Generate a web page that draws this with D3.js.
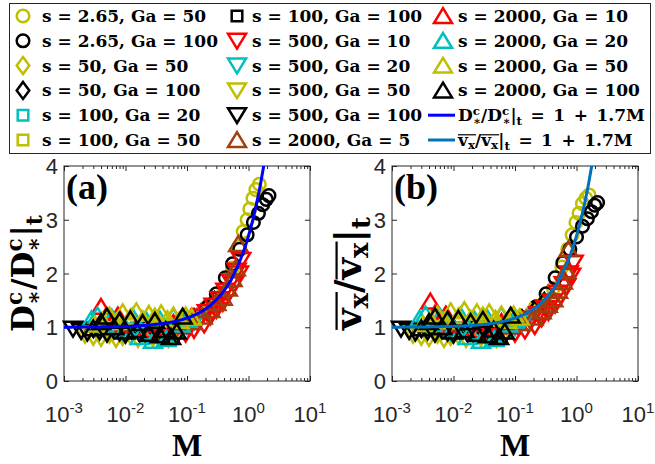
<!DOCTYPE html>
<html lang="en">
<head>
<meta charset="UTF-8">
<title>Scaled diffusivity and velocity vs M</title>
<script src="https://d3js.org/d3.v7.min.js"></script>
<style>
  body { margin: 0; background: #fff; }
</style>
</head>
<body>
<svg id="chart" width="655" height="464"></svg>
<script>
// ---- data (legend order = plot order) ----
const seriesS  = [2.65, 2.65, 50, 50, 100, 100, 100, 500, 500, 500, 500, 2000, 2000, 2000, 2000, 2000];
const seriesGa = [50, 100, 50, 100, 20, 50, 100, 10, 20, 50, 100, 5, 10, 20, 50, 100];

// fit: ratio = fitA + fitB * M
const fitA = 1, fitB = 1.7;

const xTicks = [1e-3, 1e-2, 1e-1, 1, 10];
const xTickExp = ["-3", "-2", "-1", "0", "1"];
const yTicks = [0, 1, 2, 3, 4];

// panel (a): [M, Dc*/Dc*|t]
const dA_s265_ga50  = [[0.4,1.7],[0.55,2.1],[0.7,2.5],[0.82,2.78],[0.95,3.0],[1.05,3.2],[1.18,3.4],[1.32,3.56],[1.5,3.66]];
const dA_s265_ga100 = [[0.2,1.35],[0.3,1.62],[0.42,1.92],[0.55,2.18],[0.72,2.45],[0.95,2.72],[1.2,2.95],[1.45,3.12],[1.7,3.28],[1.95,3.38],[2.15,3.45]];
const dA_s50_ga50   = [[0.05,1.05],[0.08,1.1],[0.12,1.2],[0.18,1.3],[0.26,1.45]];
const dA_s50_ga100  = [[0.03,1.0],[0.05,1.02],[0.08,1.08],[0.13,1.18],[0.2,1.35],[0.28,1.5]];
const dA_s100_ga20  = [[0.02,0.95],[0.035,1.0],[0.05,0.92],[0.08,1.05],[0.12,1.12],[0.18,1.25]];
const dA_s100_ga50  = [[0.008,1.05],[0.015,1.0],[0.025,1.08],[0.04,1.02],[0.06,1.1],[0.1,1.15]];
const dA_s100_ga100 = [[0.004,0.98],[0.007,1.02],[0.012,0.95],[0.02,1.0],[0.035,0.96],[0.055,1.05]];
const dA_s500_ga10  = [[0.075,0.95],[0.085,1.05],[0.095,0.88],[0.11,1.0],[0.12,1.12],[0.13,0.95],[0.15,1.08],[0.17,1.2],[0.19,1.05],[0.21,1.28],[0.24,1.2],[0.27,1.4],[0.3,1.32],[0.34,1.52],[0.38,1.45],[0.42,1.68],[0.47,1.62],[0.52,1.85],[0.58,1.8],[0.64,2.05],[0.7,2.0],[0.76,2.25]];
const dA_s500_ga20  = [[0.006,0.92],[0.009,0.88],[0.013,0.9],[0.018,0.84],[0.025,0.9],[0.034,0.82],[0.045,0.88],[0.06,0.92],[0.08,0.96],[0.1,1.02],[0.13,1.1]];
const dA_s500_ga50  = [[0.0022,0.86],[0.003,0.82],[0.004,0.8],[0.0055,0.86],[0.007,0.78],[0.009,0.82],[0.012,0.84],[0.016,0.78],[0.021,0.86],[0.028,0.8],[0.037,0.84],[0.05,0.78],[0.065,0.86]];
const dA_s500_ga100 = [[0.0014,0.97],[0.0019,0.93],[0.0024,0.9],[0.003,0.96],[0.0038,0.92],[0.005,0.88],[0.0065,0.94],[0.008,0.9],[0.01,0.86],[0.013,0.92],[0.017,0.88],[0.022,0.84],[0.03,0.9],[0.04,0.86],[0.052,0.9],[0.068,0.84]];
const dA_s2000_ga5  = [[0.12,1.1],[0.18,1.2],[0.24,1.32],[0.3,1.45],[0.38,1.55],[0.46,1.72],[0.55,1.9],[0.62,2.1],[0.68,2.55]];
const dA_s2000_ga10 = [[0.004,1.38],[0.0048,1.2],[0.006,1.1],[0.0075,1.22],[0.009,1.05],[0.012,1.15],[0.015,1.0],[0.02,1.1],[0.026,0.95],[0.034,1.05],[0.045,0.98],[0.06,1.08],[0.08,1.02]];
const dA_s2000_ga20 = [[0.0028,1.15],[0.0035,1.22],[0.0045,1.05],[0.006,1.18],[0.008,1.1],[0.01,0.98],[0.013,1.2],[0.017,0.82],[0.022,1.12],[0.028,0.75],[0.036,1.15],[0.046,0.78],[0.06,1.2],[0.078,1.05],[0.1,1.15]];
const dA_s2000_ga50 = [[0.0032,1.05],[0.0042,1.12],[0.0055,1.22],[0.007,1.1],[0.009,1.28],[0.012,1.18],[0.015,1.3],[0.019,1.15],[0.024,1.25],[0.03,1.2],[0.038,1.26],[0.048,1.15],[0.06,1.22],[0.075,1.12],[0.095,1.22],[0.12,1.18]];
const dA_s2000_ga100= [[0.003,0.98],[0.004,1.1],[0.005,1.2],[0.0065,1.0],[0.008,1.12],[0.01,0.92],[0.012,1.15],[0.015,0.95],[0.019,1.08],[0.024,0.88],[0.03,1.12],[0.036,0.85],[0.045,0.95],[0.055,0.82],[0.068,0.92],[0.085,1.2]];

// panel (b): [M, vx/vx|t]
const dB_s265_ga50  = [[0.42,1.72],[0.58,2.12],[0.72,2.45],[0.85,2.72],[0.98,2.95],[1.1,3.12],[1.25,3.3],[1.42,3.4],[1.6,3.46]];
const dB_s265_ga100 = [[0.22,1.38],[0.32,1.62],[0.45,1.92],[0.6,2.2],[0.78,2.45],[1.0,2.68],[1.25,2.88],[1.5,3.02],[1.75,3.15],[1.98,3.27],[2.2,3.32]];
const dB_s50_ga50   = [[0.05,1.04],[0.08,1.1],[0.12,1.18],[0.18,1.28],[0.27,1.42]];
const dB_s50_ga100  = [[0.03,1.0],[0.05,1.02],[0.08,1.06],[0.13,1.16],[0.21,1.32],[0.3,1.48]];
const dB_s100_ga20  = [[0.02,0.94],[0.035,1.0],[0.05,0.92],[0.08,1.04],[0.12,1.1],[0.19,1.22]];
const dB_s100_ga50  = [[0.008,1.04],[0.015,1.0],[0.025,1.06],[0.04,1.02],[0.06,1.08],[0.1,1.14]];
const dB_s100_ga100 = [[0.004,0.98],[0.007,1.02],[0.012,0.95],[0.02,1.0],[0.035,0.96],[0.055,1.04]];
const dB_s500_ga10  = [[0.08,0.95],[0.09,1.04],[0.1,0.88],[0.115,1.0],[0.13,1.1],[0.145,0.94],[0.165,1.06],[0.19,1.16],[0.21,1.02],[0.24,1.24],[0.27,1.16],[0.31,1.36],[0.35,1.28],[0.4,1.48],[0.45,1.42],[0.5,1.64],[0.56,1.58],[0.62,1.8],[0.68,1.76],[0.75,2.0],[0.82,1.96],[0.9,2.2]];
const dB_s500_ga20  = [[0.006,0.92],[0.009,0.88],[0.013,0.9],[0.018,0.84],[0.025,0.9],[0.034,0.82],[0.045,0.88],[0.06,0.92],[0.08,0.95],[0.1,1.0],[0.13,1.08]];
const dB_s500_ga50  = [[0.0022,0.86],[0.003,0.82],[0.004,0.8],[0.0055,0.86],[0.007,0.78],[0.009,0.82],[0.012,0.84],[0.016,0.78],[0.021,0.86],[0.028,0.8],[0.037,0.84],[0.05,0.78],[0.065,0.86]];
const dB_s500_ga100 = [[0.0014,0.97],[0.0019,0.93],[0.0024,0.9],[0.003,0.96],[0.0038,0.92],[0.005,0.88],[0.0065,0.94],[0.008,0.9],[0.01,0.86],[0.013,0.92],[0.017,0.88],[0.022,0.84],[0.03,0.9],[0.04,0.86],[0.052,0.9],[0.068,0.84]];
const dB_s2000_ga5  = [[0.13,1.08],[0.2,1.18],[0.27,1.3],[0.34,1.42],[0.42,1.52],[0.5,1.68],[0.6,1.85],[0.68,2.05],[0.74,2.45]];
const dB_s2000_ga10 = [[0.0042,1.48],[0.005,1.25],[0.006,1.12],[0.0075,1.24],[0.009,1.05],[0.012,1.16],[0.015,1.0],[0.02,1.12],[0.026,0.95],[0.034,1.06],[0.045,0.98],[0.06,1.1],[0.08,1.02]];
const dB_s2000_ga20 = [[0.0028,1.16],[0.0035,1.24],[0.0045,1.06],[0.006,1.2],[0.008,1.1],[0.01,0.98],[0.013,1.22],[0.017,0.82],[0.022,1.14],[0.028,0.75],[0.036,1.16],[0.046,0.78],[0.06,1.22],[0.078,1.05],[0.1,1.16]];
const dB_s2000_ga50 = [[0.0032,1.06],[0.0042,1.14],[0.0055,1.24],[0.007,1.12],[0.009,1.3],[0.012,1.2],[0.015,1.32],[0.019,1.16],[0.024,1.28],[0.03,1.22],[0.038,1.28],[0.048,1.16],[0.06,1.24],[0.075,1.12],[0.095,1.24],[0.12,1.18]];
const dB_s2000_ga100= [[0.003,0.98],[0.004,1.1],[0.005,1.2],[0.0065,1.0],[0.008,1.14],[0.01,0.92],[0.012,1.16],[0.015,0.95],[0.019,1.1],[0.024,0.88],[0.03,1.14],[0.036,0.85],[0.045,0.96],[0.055,0.82],[0.068,0.92],[0.085,1.22]];

const dataA = [dA_s265_ga50, dA_s265_ga100, dA_s50_ga50, dA_s50_ga100, dA_s100_ga20, dA_s100_ga50, dA_s100_ga100,
  dA_s500_ga10, dA_s500_ga20, dA_s500_ga50, dA_s500_ga100, dA_s2000_ga5, dA_s2000_ga10, dA_s2000_ga20, dA_s2000_ga50, dA_s2000_ga100];
const dataB = [dB_s265_ga50, dB_s265_ga100, dB_s50_ga50, dB_s50_ga100, dB_s100_ga20, dB_s100_ga50, dB_s100_ga100,
  dB_s500_ga10, dB_s500_ga20, dB_s500_ga50, dB_s500_ga100, dB_s2000_ga5, dB_s2000_ga10, dB_s2000_ga20, dB_s2000_ga50, dB_s2000_ga100];

// ---- styles ----
const Y = "#BFBF00", K = "#000000", C = "#00BFBF", R = "#FF0000", BR = "#A0400F";
const seriesColor  = [Y, K, Y, K, C, Y, K, R, C, Y, K, BR, R, C, Y, K];
const seriesMarker = ["o","o","d","d","s","s","s","v","v","v","v","^","^","^","^","^"];
const markerPath = {
  "o": "M6.3,0A6.3,6.3 0 1,1 -6.3,0A6.3,6.3 0 1,1 6.3,0Z",
  "d": "M0,-8.5L6.3,0L0,8.5L-6.3,0Z",
  "s": "M-5.3,-5.3H5.3V5.3H-5.3Z",
  "^": "M0,-7.8L9,7L-9,7Z",
  "v": "M0,7.8L9,-7L-9,-7Z"
};
const lineColorA = "#0000FF", lineColorB = "#0072BD";
const axisColor = "#262626";
const mathFont = "DejaVu Serif";
const tickFont = "Liberation Sans, Arial, sans-serif";

const svg = d3.select("#chart");
svg.append("rect").attr("width", 655).attr("height", 464).attr("fill", "#fff");

const plotTop = 166, plotBottom = 381;

// math-ish text: parts {t, s: scale, y: baseline offset (em), dx (em), bar: overline id}
function addMath(parent, x, y, parts, fs, anchor) {
  const t = parent.append("text")
    .attr("x", x).attr("y", y)
    .attr("text-anchor", anchor || "start")
    .style("font-family", mathFont)
    .style("font-weight", "bold")
    .style("font-size", fs + "px")
    .attr("fill", "#000");
  let cur = 0, idx = 0;
  const bars = {};
  parts.forEach(p => {
    const off = (p.y || 0) * fs;
    const sp = t.append("tspan")
      .attr("dy", off - cur)
      .style("font-size", ((p.s || 1) * fs) + "px")
      .text(p.t);
    if (p.dx) sp.attr("dx", p.dx * fs);
    if (p.bar) {
      const b = bars[p.bar] || (bars[p.bar] = [idx, idx]);
      b[1] = idx + p.t.length - 1;
    }
    idx += p.t.length;
    cur = off;
  });
  const node = t.node();
  Object.values(bars).forEach(b => {
    const x0 = node.getStartPositionOfChar(b[0]).x;
    const x1 = node.getEndPositionOfChar(b[1]).x;
    parent.append("line")
      .attr("x1", x0).attr("x2", x1 + 1)
      .attr("y1", y - 0.66 * fs).attr("y2", y - 0.66 * fs)
      .attr("stroke", "#000").attr("stroke-width", Math.max(1.2, 0.06 * fs));
  });
  return t;
}

const partsD = [
  {t: "D"}, {t: "c", s: 0.7, y: -0.38}, {t: "\u2217", s: 0.7, y: 0.22, dx: -0.42},
  {t: "/"},
  {t: "D"}, {t: "c", s: 0.7, y: -0.38}, {t: "\u2217", s: 0.7, y: 0.22, dx: -0.42},
  {t: "|"}, {t: "t", s: 0.7, y: 0.25}
];
const partsV = [
  {t: "v", bar: 1}, {t: "x", s: 0.7, y: 0.2, bar: 1},
  {t: "/"},
  {t: "v", bar: 2}, {t: "x", s: 0.7, y: 0.2, bar: 2},
  {t: "|"}, {t: "t", s: 0.7, y: 0.25}
];
const fitText = [{t: "\u2002=\u20021\u2002+\u20021.7M", y: 0}];

function drawPanel(px0, px1, data, lineColor, tag, yParts, yLabelX, yLabelFs) {
  const x = d3.scaleLog().domain([1e-3, 1e1]).range([px0, px1]);
  const y = d3.scaleLinear().domain([0, 4]).range([plotBottom, plotTop]);
  const g = svg.append("g");

  // ticks (inside, box on)
  const minors = [];
  for (let e = -3; e < 1; e++) for (let k = 2; k <= 9; k++) minors.push(k * Math.pow(10, e));
  const ax = [
    [d3.axisBottom(x).tickValues(xTicks).tickSize(-5), plotBottom],
    [d3.axisBottom(x).tickValues(minors).tickSize(-3), plotBottom],
    [d3.axisTop(x).tickValues(xTicks).tickSize(-5), plotTop],
    [d3.axisTop(x).tickValues(minors).tickSize(-3), plotTop]
  ];
  ax.forEach(([a, ty]) => {
    const s = g.append("g").attr("transform", `translate(0,${ty})`).call(a.tickFormat(""));
    s.select(".domain").remove();
    s.selectAll("line").attr("stroke", axisColor);
  });
  [[d3.axisLeft(y).tickValues(yTicks).tickSize(-5), px0], [d3.axisRight(y).tickValues(yTicks).tickSize(-5), px1]]
    .forEach(([a, tx]) => {
      const s = g.append("g").attr("transform", `translate(${tx},0)`).call(a.tickFormat(""));
      s.select(".domain").remove();
      s.selectAll("line").attr("stroke", axisColor);
    });
  g.append("rect")
    .attr("x", px0).attr("y", plotTop)
    .attr("width", px1 - px0).attr("height", plotBottom - plotTop)
    .attr("fill", "none").attr("stroke", axisColor).attr("stroke-width", 1);

  // markers
  data.forEach((pts, i) => {
    g.append("g").selectAll("path").data(pts).join("path")
      .attr("d", markerPath[seriesMarker[i]])
      .attr("transform", d => `translate(${x(d[0])},${y(d[1])})`)
      .attr("fill", "none")
      .attr("stroke", seriesColor[i])
      .attr("stroke-width", 2.5);
  });

  // fit curve
  const clipId = "clip" + tag;
  svg.append("clipPath").attr("id", clipId).append("rect")
    .attr("x", px0).attr("y", plotTop).attr("width", px1 - px0).attr("height", plotBottom - plotTop);
  const fitM = d3.range(0, 401).map(i => Math.pow(10, -3 + i * 0.01));
  g.append("path")
    .datum(fitM)
    .attr("clip-path", `url(#${clipId})`)
    .attr("d", d3.line().x(m => x(m)).y(m => y(fitA + fitB * m)))
    .attr("fill", "none").attr("stroke", lineColor).attr("stroke-width", 3);

  // tick labels
  xTicks.forEach((v, i) => {
    const t = g.append("text")
      .attr("x", x(v)).attr("y", 422)
      .attr("text-anchor", "middle")
      .style("font-family", tickFont)
      .style("font-size", "22px").attr("fill", axisColor);
    t.append("tspan").text("10");
    t.append("tspan").attr("dy", -9).style("font-size", "15px").text(xTickExp[i]);
  });
  yTicks.forEach(v => {
    g.append("text")
      .attr("x", px0 - 6).attr("y", y(v) + 8)
      .attr("text-anchor", "end")
      .style("font-family", tickFont)
      .style("font-size", "22px").attr("fill", axisColor)
      .text(v);
  });

  // panel tag
  g.append("text")
    .attr("x", px0 + 2).attr("y", plotTop + 33)
    .style("font-family", "Liberation Serif, serif")
    .style("font-weight", "bold")
    .style("font-size", "36px").attr("fill", "#000")
    .text("(" + tag + ")");

  // axis labels
  g.append("text")
    .attr("x", (px0 + px1) / 2).attr("y", 456)
    .attr("text-anchor", "middle")
    .style("font-family", "Liberation Serif, serif")
    .style("font-weight", "bold")
    .style("font-size", "32px").attr("fill", "#000")
    .text("M");
  const yl = g.append("g").attr("transform", `translate(${yLabelX},${(plotTop + plotBottom) / 2}) rotate(-90)`);
  addMath(yl, 0, 0, yParts, yLabelFs, "middle");
}

drawPanel(64, 310, dataA, lineColorA, "a", partsD, 34, 31);
drawPanel(392, 638, dataB, lineColorB, "b", partsV, 361, 37);

// ---- legend ----
const lg = svg.append("g");
lg.append("rect")
  .attr("x", 9.5).attr("y", 3.5).attr("width", 641).attr("height", 150)
  .attr("fill", "#fff").attr("stroke", axisColor).attr("stroke-width", 1);

const colMarkX = [23, 237, 443], colTextX = [42, 252, 458];
const rowY0 = 16, rowStep = 24.8;
const legendFs = 17;

seriesS.forEach((s, i) => {
  const col = Math.floor(i / 6), row = i % 6;
  const cy = rowY0 + row * rowStep;
  lg.append("path")
    .attr("d", markerPath[seriesMarker[i]])
    .attr("transform", `translate(${colMarkX[col]},${cy})`)
    .attr("fill", "none").attr("stroke", seriesColor[i]).attr("stroke-width", 2.5);
  addMath(lg, colTextX[col], cy + 6, [{t: "s = " + s + ", Ga = " + seriesGa[i]}], legendFs, "start");
});
[[partsD, lineColorA], [partsV, lineColorB]].forEach(([parts, color], j) => {
  const i = seriesS.length + j;
  const col = Math.floor(i / 6), row = i % 6;
  const cy = rowY0 + row * rowStep;
  lg.append("line")
    .attr("x1", 428).attr("x2", 455).attr("y1", cy).attr("y2", cy)
    .attr("stroke", color).attr("stroke-width", 3);
  addMath(lg, colTextX[col], cy + 6, parts.concat(fitText), legendFs, "start");
});
</script>
</body>
</html>
